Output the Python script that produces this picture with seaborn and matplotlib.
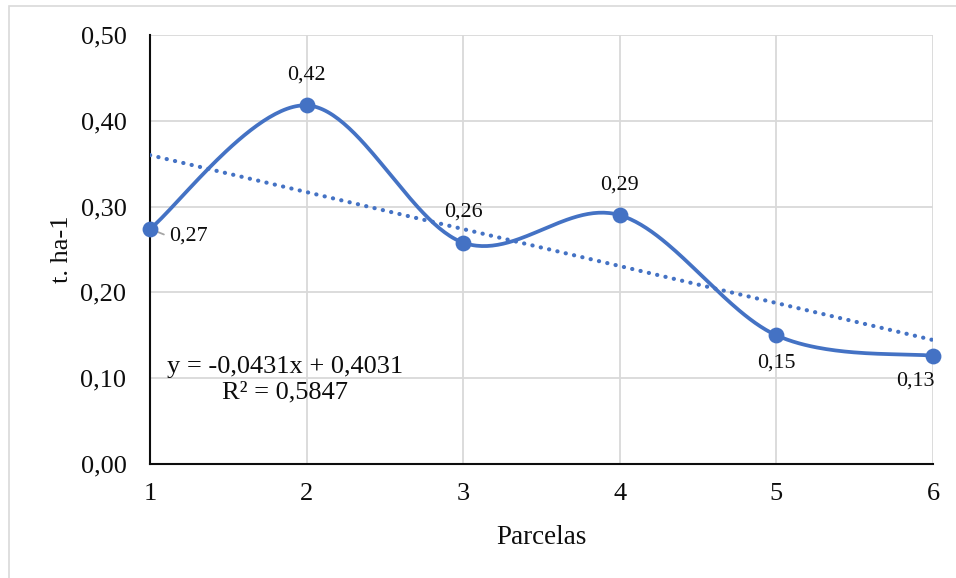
import numpy as np
import pandas as pd
import matplotlib
matplotlib.use("Agg")
import matplotlib.pyplot as plt
from matplotlib.ticker import FuncFormatter
from matplotlib.patches import Rectangle
import seaborn as sns

# Yield per plot (t/ha)
parcelas = [1, 2, 3, 4, 5, 6]
rendimiento = [0.274, 0.418, 0.258, 0.290, 0.150, 0.126]

# Linear trend reported for the series
trend_slope = -0.0431
trend_intercept = 0.4031
trend_r2 = 0.5847

y_ticks = [0.0, 0.1, 0.2, 0.3, 0.4, 0.5]

BLUE = "#4472C4"
GRID = "#D9D9D9"
INK = "#0D0D0D"

sns.set_theme(style="whitegrid")
plt.rcParams["font.family"] = ["Liberation Serif", "DejaVu Serif"]


def comma(v, _pos=None, nd=2):
    return f"{v:.{nd}f}".replace(".", ",")


def smooth_curve(xs, ys, n=60):
    """Cubic Bezier through the points, control points from neighbours (1/6 tension)."""
    P = np.column_stack([xs, ys]).astype(float)
    ext = np.vstack([P[0], P, P[-1]])
    out = []
    for i in range(len(P) - 1):
        p0, p1, p2, p3 = ext[i], ext[i + 1], ext[i + 2], ext[i + 3]
        c1 = p1 + (p2 - p0) / 6.0
        c2 = p2 - (p3 - p1) / 6.0
        t = np.linspace(0, 1, n)[:, None]
        seg = ((1 - t) ** 3) * p1 + 3 * ((1 - t) ** 2) * t * c1 + 3 * (1 - t) * t ** 2 * c2 + t ** 3 * p2
        out.append(seg if i == 0 else seg[1:])
    return np.vstack(out)


df = pd.DataFrame({"Parcelas": parcelas, "t. ha-1": rendimiento})
curve = smooth_curve(parcelas, rendimiento)
curve_df = pd.DataFrame({"x": curve[:, 0], "y": curve[:, 1]})
trend_df = pd.DataFrame({"x": parcelas,
                         "y": [trend_slope * p + trend_intercept for p in parcelas]})

fig = plt.figure(figsize=(9.56, 5.78), dpi=100)
ax = fig.add_axes([150 / 956, 1 - 464 / 578, 783 / 956, 429 / 578])

# outer chart-area frame
fig.patches.append(Rectangle((9 / 956, -0.01), 1.0, 1 - 6 / 578 + 0.01,
                             transform=fig.transFigure, fill=False,
                             edgecolor=GRID, linewidth=1.2, zorder=0))

# trend line (dotted)
sns.lineplot(data=trend_df, x="x", y="y", ax=ax, color=BLUE, linewidth=3.0,
             linestyle=(0, (0.05, 2.0)), dash_capstyle="round", zorder=3)
lt = ax.lines[-1]
lt.set_dash_capstyle("round")

# smoothed series line
sns.lineplot(data=curve_df, x="x", y="y", ax=ax, color=BLUE, linewidth=2.7,
             sort=False, zorder=4)
ax.lines[-1].set_solid_capstyle("round")

# markers
sns.scatterplot(data=df, x="Parcelas", y="t. ha-1", ax=ax, color=BLUE, s=130,
                edgecolor=BLUE, linewidth=0, zorder=5, clip_on=False)

# data labels (offsets in points)
offsets = [(14, -5), (0, 22), (0, 22), (0, 22), (0, -20), (-13, -18)]
for x, y, (dx, dy) in zip(parcelas, rendimiento, offsets):
    ha = "left" if dx > 5 else "center"
    ax.annotate(comma(y), xy=(x, y), xytext=(dx, dy), textcoords="offset points",
                ha=ha, va="center", fontsize=15.8, color=INK, zorder=6,
                annotation_clip=False)
# leader line for the first label
ax.annotate("", xy=(parcelas[0], rendimiento[0]), xytext=(10, -4),
            textcoords="offset points",
            arrowprops=dict(arrowstyle="-", color="#A6A6A6", lw=1.3,
                            shrinkA=0, shrinkB=0), zorder=4.5)

# trend equation
ax.text(0.172, 0.196, f"y = {comma(trend_slope, nd=4)}x + {comma(trend_intercept, nd=4)}\n"
        f"R² = {comma(trend_r2, nd=4)}",
        transform=ax.transAxes, ha="center", va="center", multialignment="center",
        fontsize=19, color=INK, linespacing=1.2, zorder=6)

ax.set_xlim(1, 6)
ax.set_ylim(0, 0.5)
ax.set_xticks(parcelas)
ax.set_yticks(y_ticks)
ax.yaxis.set_major_formatter(FuncFormatter(comma))
ax.tick_params(axis="both", labelsize=19, colors=INK, length=0)
ax.tick_params(axis="y", pad=17)
ax.tick_params(axis="x", pad=14)

ax.set_xlabel("Parcelas", fontsize=19.5, color=INK, labelpad=14)
ax.set_ylabel("t. ha-1", fontsize=19, color=INK, labelpad=5)

ax.grid(True, color=GRID, linewidth=1.3)
ax.set_facecolor("white")
for side in ["top", "right"]:
    ax.spines[side].set_visible(False)
for side in ["left", "bottom"]:
    ax.spines[side].set_visible(True)
    ax.spines[side].set_color(INK)
    ax.spines[side].set_linewidth(1.5)
    ax.spines[side].set_zorder(2.5)

fig.savefig("out.png", dpi=100, facecolor="white")
